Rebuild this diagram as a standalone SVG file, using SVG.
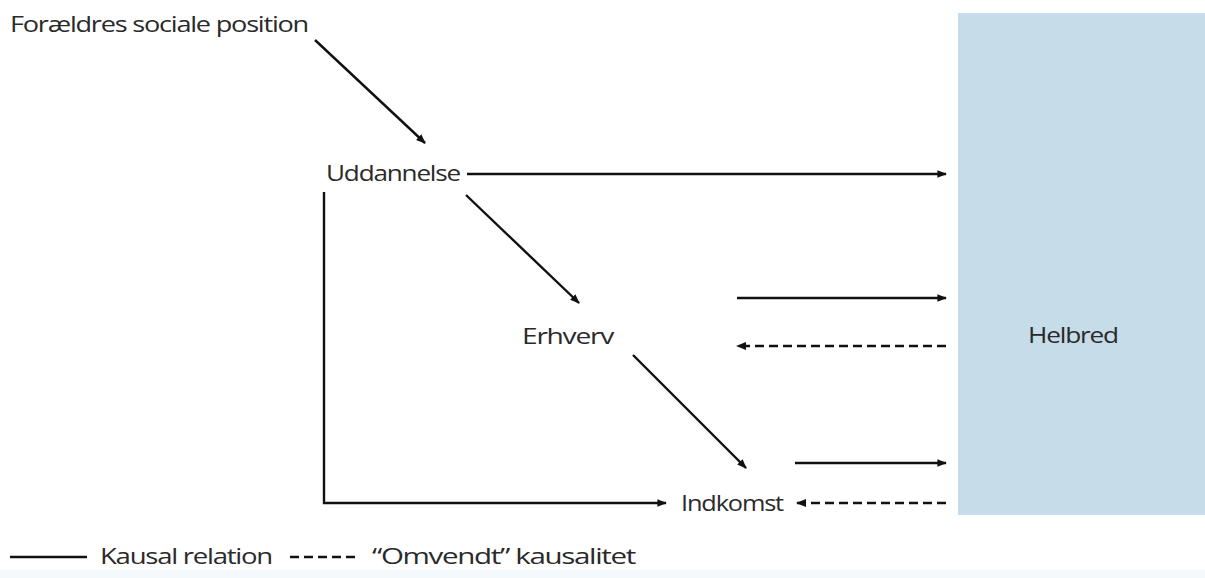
<svg xmlns="http://www.w3.org/2000/svg" width="1205" height="578" viewBox="0 0 1205 578">
<style>
text{font-family:"Open Sans","Liberation Sans",sans-serif;font-size:22px;fill:#2a2a2a;letter-spacing:-1px}
.c{stroke:#111;stroke-width:2.4;fill:none}
.d{stroke:#111;stroke-width:2.6;fill:none;stroke-dasharray:9 5}
</style>
<defs>
<marker id="ah" viewBox="0 0 10 10" refX="9" refY="5" markerWidth="4" markerHeight="4" orient="auto-start-reverse" markerUnits="strokeWidth">
<path d="M0,1 L10,5 L0,9 Z" fill="#111"/>
</marker>
</defs>
<rect x="0" y="0" width="1205" height="578" fill="#ffffff"/>
<rect x="0" y="570" width="1205" height="8" fill="#f4fafb"/>
<g id="helbred">
<rect x="958" y="13" width="247" height="502" fill="#c6dce8"/>
<text x="1028" y="343" textLength="90" lengthAdjust="spacingAndGlyphs">Helbred</text>
</g>
<g id="foraeldres">
<text x="10" y="32" textLength="298" lengthAdjust="spacingAndGlyphs">Forældres sociale position</text>
</g>
<g id="uddannelse">
<text x="326" y="181" textLength="134" lengthAdjust="spacingAndGlyphs">Uddannelse</text>
</g>
<g id="erhverv">
<text x="522" y="344" textLength="91" lengthAdjust="spacingAndGlyphs">Erhverv</text>
</g>
<g id="indkomst">
<text x="681" y="511" textLength="102" lengthAdjust="spacingAndGlyphs">Indkomst</text>
</g>
<g id="connectors">
<line class="c" x1="315" y1="40" x2="425" y2="143" marker-end="url(#ah)"/>
<line class="c" x1="467" y1="174" x2="946" y2="174" marker-end="url(#ah)"/>
<line class="c" x1="466" y1="195" x2="579" y2="303" marker-end="url(#ah)"/>
<line class="c" x1="633" y1="355" x2="746" y2="468" marker-end="url(#ah)"/>
<polyline class="c" points="324,192 324,503 666,503" marker-end="url(#ah)"/>
<line class="c" x1="737" y1="298" x2="946" y2="298" marker-end="url(#ah)"/>
<line class="d" x1="946" y1="346" x2="737" y2="346" marker-end="url(#ah)"/>
<line class="c" x1="795" y1="463" x2="946" y2="463" marker-end="url(#ah)"/>
<line class="d" x1="946" y1="503" x2="797" y2="503" marker-end="url(#ah)"/>
</g>
<g id="legend">
<line class="c" x1="10" y1="557" x2="87" y2="557"/>
<text x="100" y="564" textLength="172" lengthAdjust="spacingAndGlyphs">Kausal relation</text>
<line class="d" x1="290" y1="557" x2="357" y2="557" stroke-dasharray="7 4"/>
<text x="372" y="564" textLength="263" lengthAdjust="spacingAndGlyphs">“Omvendt” kausalitet</text>
</g>
</svg>
